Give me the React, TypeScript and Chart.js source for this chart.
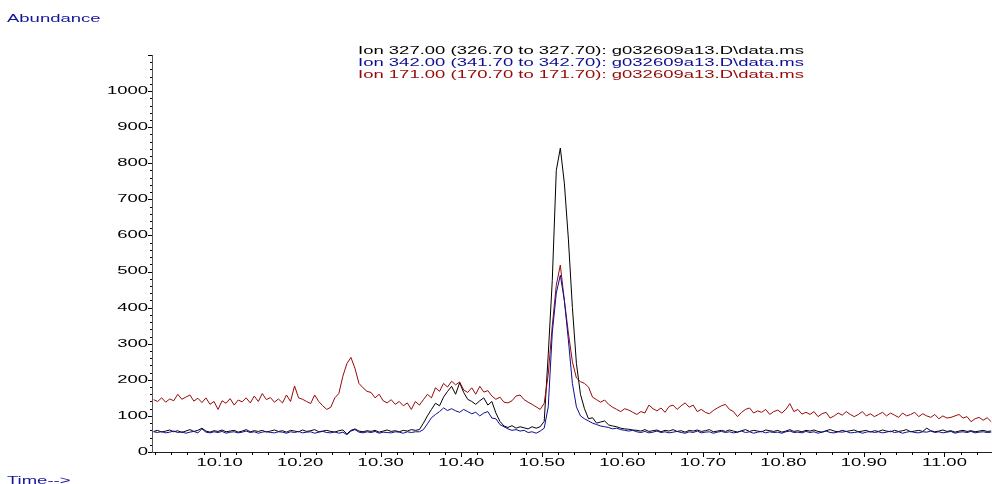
import React, { useEffect, useRef } from "react";
import { Chart, registerables } from "chart.js";

Chart.register(...registerables);

// ---------- data ----------
const TIME_START = 10.018; // first scan time (min)
const TIME_STEP = 0.005; // scan interval (min)
const X_MIN = 10.016;
const X_MAX = 11.059;
const Y_MIN = 0;
const Y_MAX = 1100;

const ION_327 = [
  57, 60, 55, 58, 61, 56, 59, 54, 58, 62,
  57, 60, 66, 58, 55, 59, 57, 61, 56, 58,
  60, 55, 58, 62, 56, 59, 57, 60, 55, 58,
  61, 57, 59, 55, 60, 58, 56, 61, 57, 59,
  62, 56, 58, 60, 57, 55, 59, 61, 50, 60,
  64, 58, 56, 59, 57, 60, 55, 58, 61, 57,
  59, 56, 60, 58, 62, 60, 62, 80, 100, 118,
  135, 128, 152, 168, 182, 160, 192, 165, 146, 140,
  132, 142, 150, 130, 140, 108, 85, 72, 68, 73,
  66, 70, 67, 64, 70, 66, 70, 85, 270, 475,
  780, 842, 745, 590, 400, 245, 160, 120, 92, 95,
  80, 83, 86, 75, 72, 70, 66, 64, 63, 61,
  60, 58, 62, 57, 59, 61, 56, 60, 58, 62,
  57, 59, 55, 60, 58, 61, 57, 59, 62, 56,
  58, 60, 57, 61, 58, 55, 59, 62, 57, 60,
  58, 56, 61, 59, 57, 60, 55, 58, 62, 57,
  59, 56, 60, 58, 61, 57, 55, 59, 62, 58,
  56, 60, 57, 59, 61, 56, 58, 60, 55, 59,
  57, 61, 58, 56, 60, 57, 59, 62, 56, 58,
  60, 57, 66, 59, 56, 58, 61, 57, 59, 55,
  58, 60, 57, 59, 56, 58, 60, 57, 58,
];

const ION_342 = [
  56, 54, 57, 53, 55, 58, 54, 56, 52, 55,
  57, 53, 64, 55, 53, 56, 54, 57, 52, 55,
  56, 53, 55, 58, 54, 56, 52, 55, 57, 54,
  53, 56, 55, 52, 56, 54, 57, 53, 55, 56,
  52, 55, 57, 54, 53, 56, 52, 55, 48, 58,
  62, 55, 53, 56, 54, 57, 52, 55, 54, 53,
  56, 55, 52, 56, 54, 56, 56, 62, 78, 95,
  104, 112, 122, 115, 120, 114, 110, 118, 112, 106,
  110, 100, 108, 112, 94, 92, 76, 70, 64, 60,
  62, 58, 60, 54, 56, 52, 58, 66, 125, 330,
  440, 490, 420, 310, 190, 125, 100, 92, 86, 80,
  76, 72, 70, 68, 64, 66, 62, 60, 58, 60,
  56, 54, 57, 53, 55, 58, 54, 56, 53, 55,
  57, 54, 52, 56, 54, 58, 53, 55, 56, 52,
  55, 57, 54, 56, 53, 55, 58, 54, 56, 52,
  55, 57, 53, 56, 54, 55, 52, 56, 58, 54,
  55, 53, 57, 54, 56, 52, 55, 58, 54, 53,
  56, 55, 57, 53, 54, 56, 52, 55, 57, 54,
  56, 53, 55, 58, 54, 56, 52, 55, 57, 54,
  53, 56, 55, 58, 54, 56, 53, 55, 57, 52,
  55, 56, 54, 57, 53, 55, 56, 54, 55,
];

const ION_171 = [
  145, 140, 150, 138, 147, 142, 160, 146, 152, 158,
  141, 149, 137, 150, 132, 140, 118, 142, 135, 148,
  130, 144, 139, 150, 136, 155, 140, 162, 145, 151,
  138, 147, 136, 158, 140, 183, 150, 146, 140, 134,
  158, 140, 128, 118, 124, 150, 162, 210, 245, 262,
  232, 190, 178, 168, 165, 150, 160, 142, 136, 145,
  132, 140, 128, 136, 118, 140, 130, 145, 160, 150,
  178, 168, 190, 180, 196, 186, 194, 172, 165, 178,
  160, 182, 166, 170, 155, 146, 152, 138, 136, 142,
  155, 158, 145, 138, 132, 125, 118, 135, 215, 350,
  462, 518, 420, 330, 250, 205, 195, 190, 180, 152,
  145, 138, 144, 132, 124, 118, 112, 120, 116, 110,
  104, 112, 108, 130, 120, 114, 122, 110, 126, 130,
  118, 128, 136, 124, 130, 112, 118, 110, 106, 115,
  122, 128, 132, 118, 112, 98, 110, 118, 122, 108,
  114, 110, 118, 104, 112, 116, 108, 118, 134, 112,
  118, 105, 110, 104, 112, 98, 106, 110, 94, 100,
  108, 102, 112, 104, 98, 104, 112, 100, 106, 98,
  104, 110, 100, 108, 102, 96, 108, 100, 104, 110,
  98, 106, 100, 96, 104, 92, 100, 94, 96, 100,
  104, 94, 98, 84, 92, 96, 88, 95, 84,
];

const LEGEND_LINES = [
  "Ion 327.00 (326.70 to 327.70): g032609a13.D\\data.ms",
  "Ion 342.00 (341.70 to 342.70): g032609a13.D\\data.ms",
  "Ion 171.00 (170.70 to 171.70): g032609a13.D\\data.ms",
];
const Y_TITLE = "Abundance";
const X_TITLE = "Time-->";

// ---------- styles ----------
const COLORS = ["#000000", "#0c0c96", "#980808"];
const TEXT_BLUE = "#14149c";
const FONT_SIZE = 10.5;
const FONT_FAMILY = '"Liberation Sans", Arial, sans-serif';
const STRETCH = 1.76;

const toPoints = (arr: number[]) =>
  arr.map((v, i) => ({ x: TIME_START + i * TIME_STEP, y: v }));

const isMajorX = (v: number) => Math.abs(v * 10 - Math.round(v * 10)) < 1e-6;
const isMajorY = (v: number) => Math.abs(v % 100) < 1e-6;

const stretchTextPlugin = {
  id: "stretchText",
  beforeInit(chart: any) {
    const ctx = chart.ctx as any;
    if (ctx.__stretched) return;
    const orig = ctx.fillText.bind(ctx);
    ctx.fillText = (text: string, x: number, y: number, maxWidth?: number) => {
      ctx.save();
      ctx.translate(x, y);
      ctx.scale(STRETCH, 1);
      if (maxWidth === undefined || maxWidth === null) orig(text, 0, 0);
      else orig(text, 0, 0, maxWidth / STRETCH);
      ctx.restore();
    };
    ctx.__stretched = true;
  },
};

const decorPlugin = {
  id: "decor",
  afterDraw(chart: any) {
    const ctx = chart.ctx;
    const xs = chart.scales.x;
    const ys = chart.scales.y;
    const area = chart.chartArea;
    ctx.save();
    // tick marks
    ctx.strokeStyle = "#000";
    ctx.lineWidth = 1;
    ctx.beginPath();
    for (const t of xs.ticks) {
      const px = Math.round(xs.getPixelForValue(t.value)) + 0.5;
      const len = isMajorX(t.value) ? 5 : 3;
      ctx.moveTo(px, area.bottom);
      ctx.lineTo(px, area.bottom + len);
    }
    for (const t of ys.ticks) {
      const py = Math.round(ys.getPixelForValue(t.value)) + 0.5;
      const len = isMajorY(t.value) ? 4 : 2;
      ctx.moveTo(area.left, py);
      ctx.lineTo(area.left - len, py);
    }
    ctx.stroke();
    // texts
    ctx.font = `${FONT_SIZE}px ${FONT_FAMILY}`;
    ctx.textAlign = "left";
    ctx.textBaseline = "middle";
    ctx.fillStyle = TEXT_BLUE;
    ctx.fillText(Y_TITLE, 7, 19);
    ctx.fillText(X_TITLE, 7, 481.5);
    LEGEND_LINES.forEach((s, k) => {
      ctx.fillStyle = COLORS[k];
      ctx.fillText(s, 358, 51.5 + k * 12);
    });
    ctx.restore();
  },
};

export default function App() {
  const ref = useRef<HTMLCanvasElement | null>(null);

  useEffect(() => {
    document.body.style.margin = "0";
    const canvas = ref.current;
    if (!canvas) return;
    const tickFont = { family: FONT_FAMILY, size: FONT_SIZE };
    const chart = new Chart(canvas, {
      type: "line",
      data: {
        datasets: [
          {
            label: LEGEND_LINES[0],
            data: toPoints(ION_327),
            borderColor: COLORS[0],
            borderWidth: 1,
            pointRadius: 0,
            tension: 0,
            order: 3,
          },
          {
            label: LEGEND_LINES[1],
            data: toPoints(ION_342),
            borderColor: COLORS[1],
            borderWidth: 1,
            pointRadius: 0,
            tension: 0,
            order: 1,
          },
          {
            label: LEGEND_LINES[2],
            data: toPoints(ION_171),
            borderColor: COLORS[2],
            borderWidth: 1,
            pointRadius: 0,
            tension: 0,
            order: 2,
          },
        ],
      },
      options: {
        animation: false,
        responsive: false,
        devicePixelRatio: 1,
        layout: { padding: { top: 55, left: 0, right: 0, bottom: 0 } },
        plugins: {
          legend: { display: false },
          tooltip: { enabled: false },
          title: { display: false },
        },
        elements: { line: { borderWidth: 1 } },
        scales: {
          x: {
            type: "linear",
            min: X_MIN,
            max: X_MAX,
            grid: { display: false, drawTicks: false },
            border: { display: true, color: "#222", width: 1 },
            afterFit: (s: any) => {
              s.height = 32;
            },
            ticks: {
              stepSize: 0.02,
              includeBounds: false,
              autoSkip: false,
              maxRotation: 0,
              minRotation: 0,
              padding: 5,
              color: "#000",
              font: tickFont,
              callback: (v: any) => (isMajorX(Number(v)) ? Number(v).toFixed(2) : ""),
            },
          },
          y: {
            type: "linear",
            min: Y_MIN,
            max: Y_MAX,
            grid: { display: false, drawTicks: false },
            border: { display: true, color: "#555", width: 1 },
            afterFit: (s: any) => {
              s.width = 152;
            },
            ticks: {
              stepSize: 20,
              includeBounds: false,
              autoSkip: false,
              padding: 4,
              color: "#000",
              font: tickFont,
              callback: (v: any) => {
                const n = Number(v);
                return isMajorY(n) && n <= 1000 ? String(n) : "";
              },
            },
          },
        },
      },
      plugins: [stretchTextPlugin, decorPlugin],
    } as any);
    return () => chart.destroy();
  }, []);

  return (
    <div style={{ width: 992, height: 484, position: "relative" }}>
      <canvas ref={ref} width={992} height={484} style={{ display: "block" }} />
    </div>
  );
}
